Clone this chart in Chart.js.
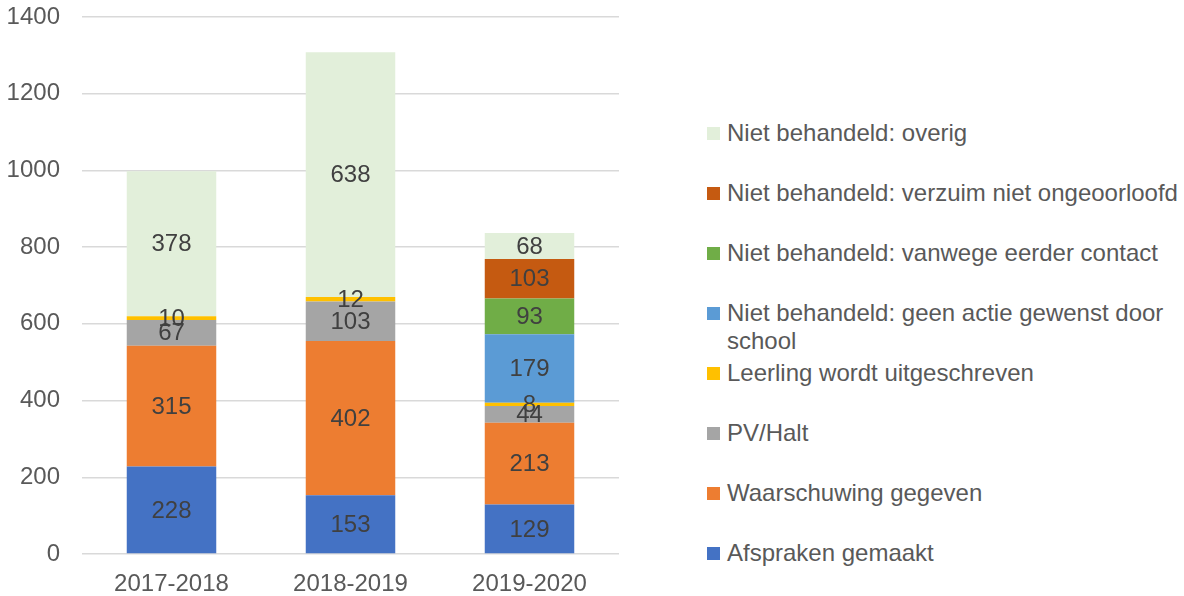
<!DOCTYPE html>
<html>
<head>
<meta charset="utf-8">
<script src="https://cdn.jsdelivr.net/npm/chart.js@4/dist/chart.umd.min.js"></script>
<style>
  html, body { margin: 0; padding: 0; background: #fff; }
  #wrap { position: relative; width: 1184px; height: 596px; overflow: hidden; }
  #chartBox { position: absolute; left: 0; top: 0; width: 640px; height: 596px; }
  #legend { position: absolute; left: 707px; top: 119px; width: 477px;
            font-family: "Liberation Sans", Arial, sans-serif; font-size: 24px; color: #595959; }
  .item { position: relative; height: 60px; line-height: 28px; padding-left: 20px; }
  .item span.box { position: absolute; left: 0; top: 8px; width: 13px; height: 13px; }
</style>
</head>
<body>
<div id="wrap">
  <div id="chartBox"><canvas id="chart"></canvas></div>
  <div id="legend"></div>
</div>
<script>
// schooljaren
const years = ['2017-2018', '2018-2019', '2019-2020'];

// series, van onder naar boven gestapeld
const afspraken = [228, 153, 129];
const waarschuwing = [315, 402, 213];
const pvHalt = [67, 103, 44];
const uitgeschreven = [10, 12, 8];
const geenActie = [0, 0, 179];
const eerderContact = [0, 0, 93];
const verzuim = [0, 0, 103];
const overig = [378, 638, 68];

const seriesNames = [
    'Afspraken gemaakt',
    'Waarschuwing gegeven',
    'PV/Halt',
    'Leerling wordt uitgeschreven',
    'Niet behandeld: geen actie gewenst door school',
    'Niet behandeld: vanwege eerder contact',
    'Niet behandeld: verzuim niet ongeoorloofd',
    'Niet behandeld: overig'
];
const seriesColors = ['#4472C4', '#ED7D31', '#A5A5A5', '#FFC000', '#5B9BD5', '#70AD47', '#C55A11', '#E2EFDA'];
const seriesData = [afspraken, waarschuwing, pvHalt, uitgeschreven, geenActie, eerderContact, verzuim, overig];

const yTicks = [0, 200, 400, 600, 800, 1000, 1200, 1400];

const font = '"Liberation Sans", Arial, sans-serif';

// waarden midden in de segmenten tekenen
const valueLabels = {
    id: 'valueLabels',
    afterDatasetsDraw(chart) {
        const ctx = chart.ctx;
        ctx.save();
        ctx.font = '24px ' + font;
        ctx.fillStyle = '#404040';
        ctx.textAlign = 'center';
        ctx.textBaseline = 'middle';
        chart.data.datasets.forEach((ds, i) => {
            const meta = chart.getDatasetMeta(i);
            meta.data.forEach((bar, j) => {
                const v = ds.data[j];
                if (!v) return;
                ctx.fillText(String(v), bar.x, (bar.y + bar.base) / 2 + 1);
            });
        });
        ctx.restore();
    }
};

const datasets = seriesNames.map((name, i) => ({
    label: name,
    data: seriesData[i],
    backgroundColor: seriesColors[i],
    borderWidth: 0,
    barPercentage: 1,
    categoryPercentage: 0.5
}));

const chart = new Chart(document.getElementById('chart'), {
    type: 'bar',
    data: { labels: years, datasets: datasets },
    options: {
        responsive: true,
        maintainAspectRatio: false,
        animation: false,
        layout: { padding: { top: 17, right: 21, left: 0, bottom: 0 } },
        plugins: { legend: { display: false }, tooltip: { enabled: false } },
        scales: {
            x: {
                stacked: true,
                grid: { display: false },
                border: { display: false },
                ticks: { color: '#595959', font: { family: font, size: 24 }, padding: 8 },
                afterFit(scale) { scale.height = 42; }
            },
            y: {
                stacked: true,
                min: 0,
                max: 1400,
                afterBuildTicks(scale) { scale.ticks = yTicks.map(v => ({ value: v })); },
                // onzichtbare tick-streepjes geven de afstand tot de labels
                grid: { color: '#D9D9D9', lineWidth: 1.5, drawTicks: true, tickLength: 22, tickColor: 'rgba(0,0,0,0)' },
                border: { display: false },
                ticks: { color: '#595959', font: { family: font, size: 24 }, padding: 0,
                         callback: v => String(v) },
                afterFit(scale) { scale.width = 82; }
            }
        }
    },
    plugins: [valueLabels]
});

// legenda rechts, omgekeerde volgorde
const legend = document.getElementById('legend');
for (let i = datasets.length - 1; i >= 0; i--) {
    const item = document.createElement('div');
    item.className = 'item';
    item.innerHTML = '<span class="box" style="background:' + datasets[i].backgroundColor + '"></span>' + datasets[i].label;
    legend.appendChild(item);
}
</script>
</body>
</html>
